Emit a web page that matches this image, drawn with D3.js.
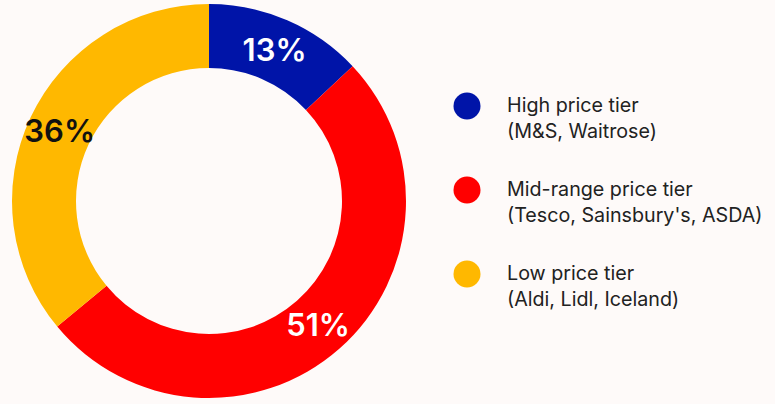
<!DOCTYPE html>
<html>
<head>
<meta charset="utf-8">
<script src="https://cdn.jsdelivr.net/npm/d3@7"></script>
<style>
  html, body { margin: 0; padding: 0; background: #fefaf9; }
  svg { display: block; font-family: Inter, "Noto Sans", sans-serif; }
</style>
</head>
<body>
<svg id="chart" width="775" height="404"></svg>
<script>
/* DATA */
const tiers = ["High price tier", "Mid-range price tier", "Low price tier"];
const shops = ["(M&S, Waitrose)", "(Tesco, Sainsbury's, ASDA)", "(Aldi, Lidl, Iceland)"];
const shares = [13, 51, 36];
const tierColors = ["#0014a8", "#ff0000", "#ffb800"];
const labelColors = ["#ffffff", "#ffffff", "#111111"];

const svg = d3.select("#chart");

const cx = 209, cy = 201;
const outerR = 197, innerR = 133;

const data = tiers.map((t, i) => ({ tier: t, shops: shops[i], value: shares[i], i: i }));

const pie = d3.pie().value(d => d.value).sort(null);
const arc = d3.arc().innerRadius(innerR).outerRadius(outerR);

const donut = svg.append("g").attr("transform", `translate(${cx},${cy})`);

let slices = pie(data);

donut.selectAll("path")
  .data(slices)
  .join("path")
  .attr("d", arc)
  .attr("fill", d => tierColors[d.data.i]);

// percentage labels sit on the arc centroid
donut.selectAll("text")
  .data(slices)
  .join("text")
  .attr("transform", d => `translate(${arc.centroid(d)})`)
  .attr("text-anchor", "middle")
  .attr("dy", "0.36em")
  .attr("fill", d => labelColors[d.data.i])
  .style("font-size", "31px")
  .style("font-weight", 600)
  .text(d => d.data.value + "%");

/* LEGEND */
const legendX = 467, legendY = 106, legendStep = 84;

const items = svg.append("g")
  .selectAll("g")
  .data(data)
  .join("g")
  .attr("transform", d => `translate(${legendX},${legendY + d.i * legendStep})`);

items.append("circle")
  .attr("r", 13.5)
  .attr("fill", d => tierColors[d.i]);

items.append("text")
  .attr("x", 40)
  .attr("y", 6)
  .attr("fill", "#222")
  .style("font-size", "19.7px")
  .text(d => d.tier);

items.append("text")
  .attr("x", 40)
  .attr("y", 32)
  .attr("fill", "#222")
  .style("font-size", "19.7px")
  .text(d => d.shops);
</script>
</body>
</html>
